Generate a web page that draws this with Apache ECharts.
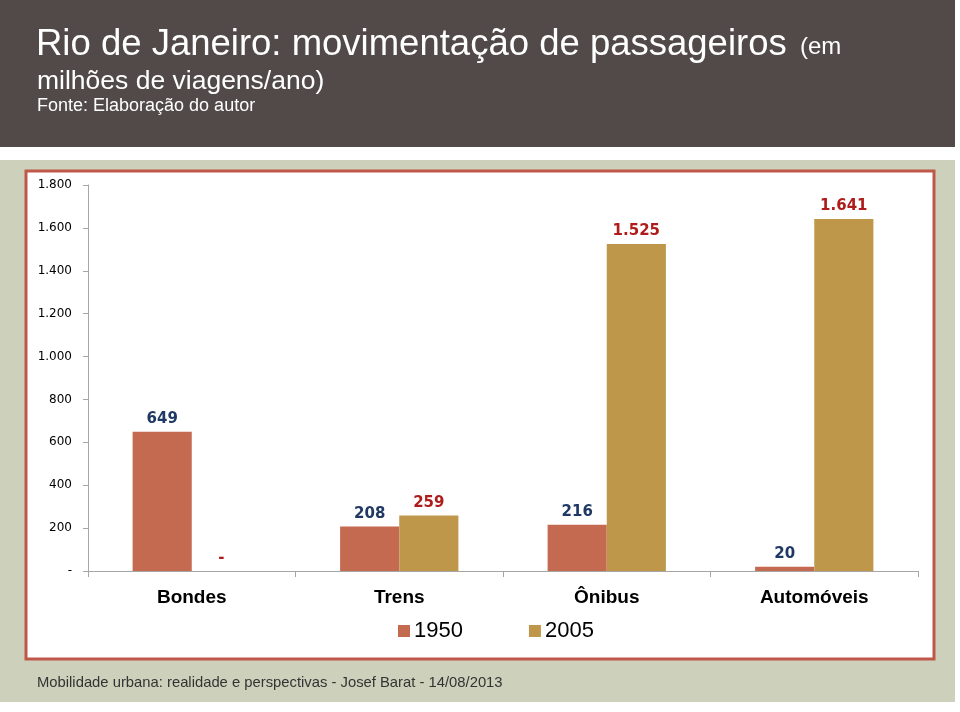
<!DOCTYPE html>
<html><head><meta charset="utf-8">
<script src="https://cdn.jsdelivr.net/npm/echarts@6/dist/echarts.min.js"></script>
<style>html,body{margin:0;padding:0;background:#fff}#c{width:960px;height:712px}</style>
</head><body><div id="c"></div>
<script>
const categories = ['Bondes', 'Trens', 'Ônibus', 'Automóveis'];
const seriesNames = ['1950', '2005'];
const values1950 = [649, 208, 216, 20];
const values2005 = [0, 259, 1525, 1641];
const yTicks = [0, 200, 400, 600, 800, 1000, 1200, 1400, 1600, 1800];

const SANS = '"Liberation Sans", Arial, sans-serif';
const VERD = '"DejaVu Sans", Verdana, sans-serif';
function fmt(v) {
  if (v === 0) return '-';
  return String(v).replace(/\B(?=(\d{3})+(?!\d))/g, '.');
}
const chart = echarts.init(document.getElementById('c'), null, {renderer: 'canvas'});
chart.setOption({
  animation: false,
  backgroundColor: '#ffffff',
  graphic: [
    {type: 'rect', z: -10, shape: {x: 0, y: 0, width: 955, height: 147}, style: {fill: '#524a49'}},
    {type: 'rect', z: -10, shape: {x: 0, y: 160, width: 955, height: 542}, style: {fill: '#cdd1bb'}},
    {type: 'rect', z: -9, shape: {x: 26, y: 171, width: 908, height: 488}, style: {fill: '#ffffff', stroke: '#c0584a', lineWidth: 3}},
    {type: 'text', left: 36, top: 26, style: {text: 'Rio de Janeiro: movimentação de passageiros', fontFamily: SANS, fontSize: 36.5, fill: '#ffffff'}},
    {type: 'text', left: 800, top: 35, style: {text: '(em', fontFamily: SANS, fontSize: 24, fill: '#ffffff'}},
    {type: 'text', left: 37, top: 68, style: {text: 'milhões de viagens/ano)', fontFamily: SANS, fontSize: 26.5, fill: '#ffffff'}},
    {type: 'text', left: 37, top: 97, style: {text: 'Fonte: Elaboração do autor', fontFamily: SANS, fontSize: 18, fill: '#ffffff'}},
    {type: 'text', left: 37, top: 675, style: {text: 'Mobilidade urbana: realidade e perspectivas - Josef Barat - 14/08/2013', fontFamily: SANS, fontSize: 14.8, fill: '#333333'}}
  ],
  legend: {
    data: seriesNames,
    left: 393, top: 615,
    itemWidth: 12, itemHeight: 12, itemGap: 66,
    textStyle: {fontFamily: SANS, fontSize: 22, color: '#000', padding: [0, 0, 0, -1]},
    icon: 'rect'
  },
  grid: {left: 88, right: 42, top: 185, bottom: 141, containLabel: false},
  xAxis: {
    type: 'category', data: categories,
    axisLine: {lineStyle: {color: '#a6a6a6'}},
    axisTick: {show: true, length: 6, lineStyle: {color: '#a6a6a6'}},
    axisLabel: {fontFamily: SANS, fontSize: 19, fontWeight: 'bold', color: '#000', margin: 17}
  },
  yAxis: {
    type: 'value', min: 0, max: 1800, interval: 200,
    splitLine: {show: false},
    axisLine: {show: true, lineStyle: {color: '#a6a6a6'}},
    axisTick: {show: true, length: 5, lineStyle: {color: '#a6a6a6'}},
    axisLabel: {fontFamily: VERD, fontSize: 12, color: '#000', margin: 16, formatter: v => fmt(v)}
  },
  series: [
    {name: seriesNames[0], type: 'bar', data: values1950, barGap: '0%', barCategoryGap: '43%',
     itemStyle: {color: '#c46a50'},
     label: {show: true, position: 'top', distance: 5, formatter: p => fmt(p.value), fontFamily: VERD, fontSize: 15, fontWeight: 'bold', color: '#1f3864'}},
    {name: seriesNames[1], type: 'bar', data: values2005, barGap: '0%', barCategoryGap: '43%',
     itemStyle: {color: '#bf974b'},
     label: {show: true, position: 'top', distance: 5, formatter: p => fmt(p.value), fontFamily: VERD, fontSize: 15, fontWeight: 'bold', color: '#b01c1c'}}
  ]
});
</script></body></html>
